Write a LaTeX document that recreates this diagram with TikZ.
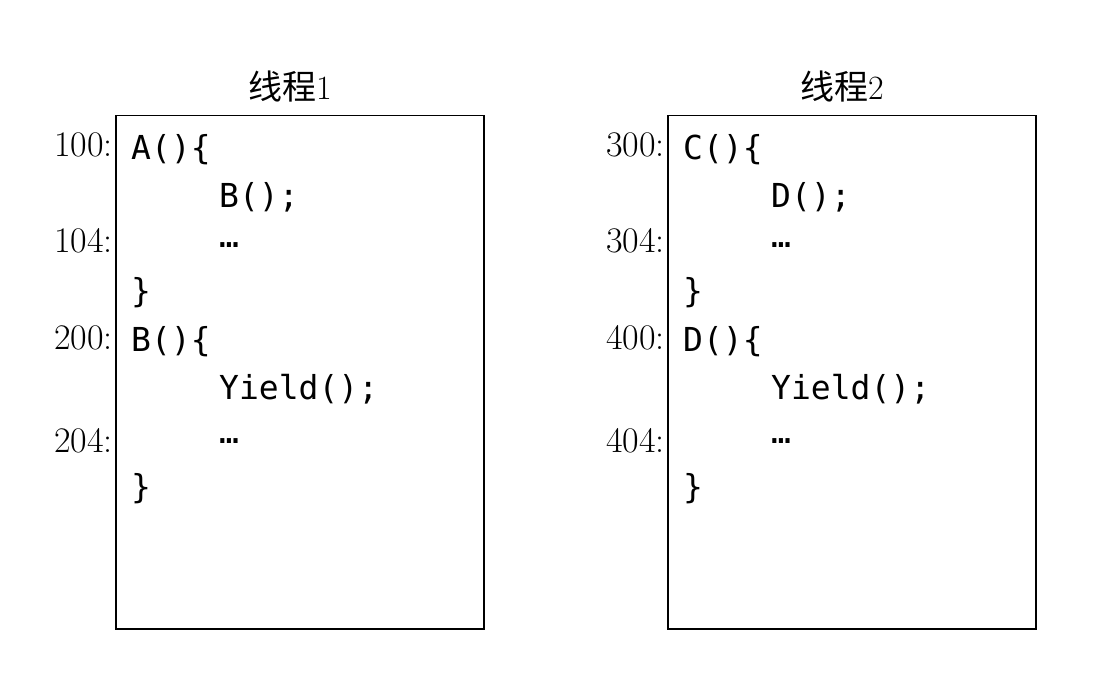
\documentclass[tikz,border=0pt]{standalone}
\usepackage{fontspec}
\newfontfamily\cjk{Noto Sans CJK SC}
\newfontfamily\code{DejaVu Sans Mono}
\begin{document}
\begin{tikzpicture}[x=1pt,y=-1pt,
  box/.style={draw,line width=1.5pt},
  num/.style={anchor=east,font=\fontsize{36}{40}\selectfont,inner sep=0},
  cd/.style={anchor=west,font=\code\fontsize{33}{38}\selectfont,inner sep=0},
  ttl/.style={font=\fontsize{34}{40}\selectfont}]
\useasboundingbox (0,0) rectangle (1117,684);
\foreach \ox/\t/\a/\b/\c/\d/\n/\m in {0/1/100/104/200/204/A/B, 552/2/300/304/400/404/C/D}{
  \begin{scope}[xshift=\ox]
  \node[box,minimum width=368,minimum height=513,anchor=north west] (box\t) at (115,115) {};
  \node[ttl] (title\t) at (290,87) {{\cjk 线程}\t};
  \node[num] (na\t) at (113,145) {\a:};
  \node[num] (nb\t) at (113,241) {\b:};
  \node[num] (nc\t) at (113,338) {\c:};
  \node[num] (nd\t) at (113,441) {\d:};
  \node[cd] (l1\t) at (131,150) {\n()\{};
  \node[cd] (l2\t) at (219,197) {\m();};
  \node[cd] (l3\t) at (219,245) {…};
  \node[cd] (l4\t) at (131,293) {\}};
  \node[cd] (l5\t) at (131,342) {\m()\{};
  \node[cd] (l6\t) at (219,389) {Yield();};
  \node[cd] (l7\t) at (219,441) {…};
  \node[cd] (l8\t) at (131,489) {\}};
  \end{scope}}
\end{tikzpicture}
\end{document}
